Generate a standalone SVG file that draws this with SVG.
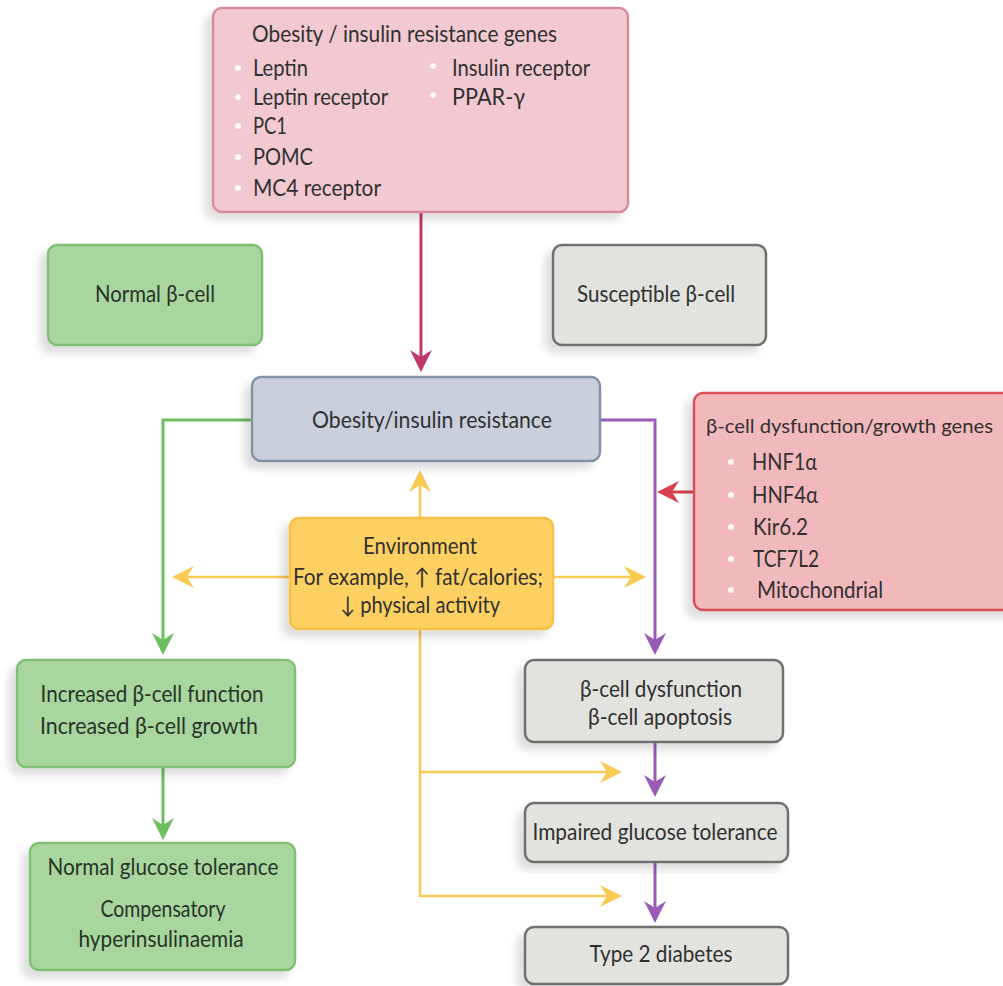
<svg xmlns="http://www.w3.org/2000/svg" width="1003" height="986" viewBox="0 0 1003 986">
<style>
  text { font-family: Lato, "Open Sans", "DejaVu Sans", sans-serif; font-size: 23px; fill: #303030; }
  .c { text-anchor: middle; }
  .g text { fill: #263426; }
  rect.box { stroke-width: 2.5; filter: url(#sh); }
  .pink { fill: #f2c9d1; stroke: #d88a9c; }
  .green { fill: #a9d69f; stroke: #80c074; }
  .gray { fill: #e2e2de; stroke: #6f6f6f; }
  .blue { fill: #c9d0dc; stroke: #8592a5; }
  .red { fill: #f2b9bd; stroke: #d9505a; }
  .env { fill: #fdd062; stroke: #f5c04a; }
  .dot { fill: #ffffff; opacity: 0.85; }
  .ln { fill: none; stroke-width: 3; }
</style>
<defs>
  <filter id="sh" x="-10%" y="-10%" width="125%" height="130%">
    <feDropShadow dx="-7" dy="7" stdDeviation="4" flood-color="#000" flood-opacity="0.13"/>
  </filter>
  <marker id="aCrim" viewBox="0 0 22 22" refX="14" refY="11" markerWidth="22" markerHeight="22" markerUnits="userSpaceOnUse" orient="auto"><path d="M0,0 L22,11 L0,22 L7,11 z" fill="#c2376a"/></marker>
  <marker id="aRed" viewBox="0 0 22 22" refX="14" refY="11" markerWidth="22" markerHeight="22" markerUnits="userSpaceOnUse" orient="auto"><path d="M0,0 L22,11 L0,22 L7,11 z" fill="#d9404f"/></marker>
  <marker id="aPur" viewBox="0 0 22 22" refX="14" refY="11" markerWidth="22" markerHeight="22" markerUnits="userSpaceOnUse" orient="auto"><path d="M0,0 L22,11 L0,22 L7,11 z" fill="#9a5bb5"/></marker>
  <marker id="aGrn" viewBox="0 0 22 22" refX="14" refY="11" markerWidth="22" markerHeight="22" markerUnits="userSpaceOnUse" orient="auto"><path d="M0,0 L22,11 L0,22 L7,11 z" fill="#6bbf5c"/></marker>
  <marker id="aYel" viewBox="0 0 22 22" refX="14" refY="11" markerWidth="22" markerHeight="22" markerUnits="userSpaceOnUse" orient="auto"><path d="M0,0 L22,11 L0,22 L7,11 z" fill="#f8c953"/></marker>
</defs>
<rect width="1003" height="986" fill="#ffffff"/>

<g id="connectors">
  <line class="ln" x1="421" y1="212" x2="421" y2="364" stroke="#c2376a" marker-end="url(#aCrim)"/>
  <line class="ln" x1="694" y1="492" x2="665" y2="492" stroke="#d9404f" marker-end="url(#aRed)"/>
  <polyline class="ln" points="600,420 655,420 655,647" stroke="#9a5bb5" marker-end="url(#aPur)"/>
  <line class="ln" x1="655" y1="742" x2="655" y2="789" stroke="#9a5bb5" marker-end="url(#aPur)"/>
  <line class="ln" x1="655" y1="862" x2="655" y2="915" stroke="#9a5bb5" marker-end="url(#aPur)"/>
  <polyline class="ln" points="252,420 163,420 163,647" stroke="#6bbf5c" marker-end="url(#aGrn)"/>
  <line class="ln" x1="163" y1="767" x2="163" y2="832" stroke="#6bbf5c" marker-end="url(#aGrn)"/>
  <g stroke="#f8c953" stroke-width="2.5" fill="none">
    <line x1="420" y1="518" x2="420" y2="478" marker-end="url(#aYel)"/>
    <line x1="290" y1="577" x2="180" y2="577" marker-end="url(#aYel)"/>
    <line x1="553" y1="577" x2="638" y2="577" marker-end="url(#aYel)"/>
    <polyline points="420,630 420,896 614,896" marker-end="url(#aYel)"/>
    <line x1="420" y1="772" x2="614" y2="772" marker-end="url(#aYel)"/>
  </g>
</g>

<g id="obesity-genes">
  <rect class="box pink" x="213" y="8" width="415" height="204" rx="9"/>
  <text x="252" y="42" textLength="305" lengthAdjust="spacingAndGlyphs">Obesity / insulin resistance genes</text>
  <circle class="dot" cx="238" cy="68" r="3"/>
  <text x="253" y="76" textLength="55" lengthAdjust="spacingAndGlyphs">Leptin</text>
  <circle class="dot" cx="238" cy="97" r="3"/>
  <text x="253" y="105" textLength="135" lengthAdjust="spacingAndGlyphs">Leptin receptor</text>
  <circle class="dot" cx="238" cy="126" r="3"/>
  <text x="253" y="134" textLength="34" lengthAdjust="spacingAndGlyphs">PC1</text>
  <circle class="dot" cx="238" cy="157" r="3"/>
  <text x="253" y="165" textLength="60" lengthAdjust="spacingAndGlyphs">POMC</text>
  <circle class="dot" cx="238" cy="188" r="3"/>
  <text x="253" y="196" textLength="128" lengthAdjust="spacingAndGlyphs">MC4 receptor</text>
  <circle class="dot" cx="433" cy="66" r="3"/>
  <text x="452" y="76" textLength="138" lengthAdjust="spacingAndGlyphs">Insulin receptor</text>
  <circle class="dot" cx="433" cy="95" r="3"/>
  <text x="452" y="105" textLength="73" lengthAdjust="spacingAndGlyphs">PPAR-γ</text>
</g>

<g id="normal-beta-cell" class="g">
  <rect class="box green" x="48" y="245" width="214" height="100" rx="9"/>
  <text class="c" x="155" y="302" textLength="120" lengthAdjust="spacingAndGlyphs">Normal β-cell</text>
</g>

<g id="susceptible-beta-cell">
  <rect class="box gray" x="553" y="245" width="213" height="100" rx="9"/>
  <text class="c" x="656" y="302" textLength="158" lengthAdjust="spacingAndGlyphs">Susceptible β-cell</text>
</g>

<g id="obesity-insulin-resistance">
  <rect class="box blue" x="252" y="377" width="348" height="84" rx="9"/>
  <text class="c" x="432" y="428" textLength="240" lengthAdjust="spacingAndGlyphs">Obesity/insulin resistance</text>
</g>

<g id="beta-cell-genes">
  <rect class="box red" x="694" y="393" width="330" height="217" rx="9"/>
  <text x="706" y="433" style="font-size:20px" textLength="287" lengthAdjust="spacingAndGlyphs">β-cell dysfunction/growth genes</text>
  <circle class="dot" cx="731" cy="462" r="3"/>
  <text x="752" y="470" textLength="65" lengthAdjust="spacingAndGlyphs">HNF1α</text>
  <circle class="dot" cx="731" cy="495" r="3"/>
  <text x="752" y="503" textLength="66" lengthAdjust="spacingAndGlyphs">HNF4α</text>
  <circle class="dot" cx="731" cy="527" r="3"/>
  <text x="753" y="535" textLength="55" lengthAdjust="spacingAndGlyphs">Kir6.2</text>
  <circle class="dot" cx="731" cy="559" r="3"/>
  <text x="753" y="567" textLength="66" lengthAdjust="spacingAndGlyphs">TCF7L2</text>
  <circle class="dot" cx="731" cy="590" r="3"/>
  <text x="757" y="598" textLength="126" lengthAdjust="spacingAndGlyphs">Mitochondrial</text>
</g>

<g id="environment">
  <rect class="box env" x="290" y="518" width="263" height="111" rx="9"/>
  <text class="c" x="420" y="554" textLength="114" lengthAdjust="spacingAndGlyphs">Environment</text>
  <text class="c" x="418" y="585" textLength="250" lengthAdjust="spacingAndGlyphs">For example, ↑ fat/calories;</text>
  <text class="c" x="420" y="613" textLength="160" lengthAdjust="spacingAndGlyphs">↓ physical activity</text>
</g>

<g id="increased-beta-cell" class="g">
  <rect class="box green" x="17" y="660" width="278" height="107" rx="9"/>
  <text class="c" x="152" y="702" textLength="223" lengthAdjust="spacingAndGlyphs">Increased β-cell function</text>
  <text class="c" x="149" y="734" textLength="218" lengthAdjust="spacingAndGlyphs">Increased β-cell growth</text>
</g>

<g id="normal-glucose-tolerance" class="g">
  <rect class="box green" x="30" y="843" width="265" height="127" rx="9"/>
  <text class="c" x="163" y="875" textLength="231" lengthAdjust="spacingAndGlyphs">Normal glucose tolerance</text>
  <text class="c" x="163" y="917" textLength="125" lengthAdjust="spacingAndGlyphs">Compensatory</text>
  <text class="c" x="161" y="947" textLength="165" lengthAdjust="spacingAndGlyphs">hyperinsulinaemia</text>
</g>

<g id="beta-cell-dysfunction">
  <rect class="box gray" x="525" y="660" width="258" height="82" rx="9"/>
  <text class="c" x="661" y="697" textLength="162" lengthAdjust="spacingAndGlyphs">β-cell dysfunction</text>
  <text class="c" x="660" y="725" textLength="144" lengthAdjust="spacingAndGlyphs">β-cell apoptosis</text>
</g>

<g id="impaired-glucose-tolerance">
  <rect class="box gray" x="525" y="803" width="263" height="59" rx="9"/>
  <text class="c" x="655" y="840" textLength="245" lengthAdjust="spacingAndGlyphs">Impaired glucose tolerance</text>
</g>

<g id="type-2-diabetes">
  <rect class="box gray" x="525" y="927" width="263" height="57" rx="9"/>
  <text class="c" x="661" y="962" textLength="143" lengthAdjust="spacingAndGlyphs">Type 2 diabetes</text>
</g>
</svg>
